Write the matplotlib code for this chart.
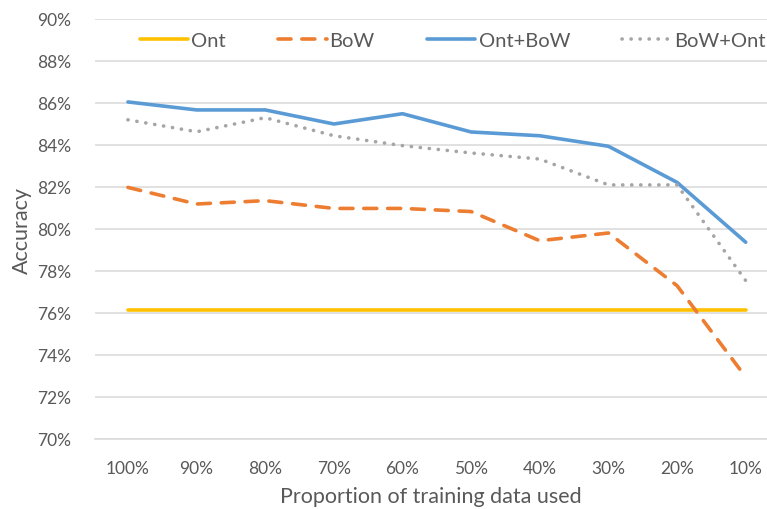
import matplotlib.pyplot as plt
from matplotlib.ticker import FuncFormatter

plt.rcParams['font.family'] = ['Lato', 'DejaVu Sans']

proportions = ["100%", "90%", "80%", "70%", "60%", "50%", "40%", "30%", "20%", "10%"]
ont = [76.14] * 10
bow = [81.98, 81.19, 81.35, 80.98, 80.98, 80.83, 79.44, 79.81, 77.3, 72.95]
ont_bow = [86.05, 85.67, 85.67, 85.0, 85.49, 84.62, 84.44, 83.94, 82.22, 79.37]
bow_ont = [85.2, 84.63, 85.3, 84.44, 83.97, 83.62, 83.33, 82.1, 82.1, 77.54]

text_color = "#595959"
grid_color = "#D9D9D9"

fig = plt.figure(figsize=(7.67, 5.10), dpi=100)
ax = fig.add_axes([95 / 767, 1 - 440 / 510, 1 - 95 / 767, 420 / 510])

x = range(len(proportions))
lw = 2.6
ax.plot(x, ont, color="#FFC000", lw=lw, solid_capstyle="round", label="Ont")
ax.plot(x, bow, color="#ED7D31", lw=lw, dashes=(3.6, 3.0), dash_capstyle="round", label="BoW")
ax.plot(x, ont_bow, color="#5B9BD5", lw=lw, solid_capstyle="round", label="Ont+BoW")
ax.plot(x, bow_ont, color="#A5A5A5", lw=lw, dashes=(0.05, 2.45), dash_capstyle="round", label="BoW+Ont")

ax.set_ylim(70, 90)
ax.set_yticks(range(70, 91, 2))
ax.yaxis.set_major_formatter(FuncFormatter(lambda v, p: f"{v:.0f}%"))
ax.set_xlim(-0.48, 9.31)
ax.set_xticks(list(x))
ax.set_xticklabels(proportions)

ax.grid(axis="y", color=grid_color, lw=1.1)
ax.set_axisbelow(True)
for s in ["top", "right", "left"]:
    ax.spines[s].set_visible(False)
ax.spines["bottom"].set_color(grid_color)
ax.spines["bottom"].set_linewidth(1.1)
ax.tick_params(length=0, labelsize=12.5, colors=text_color)
ax.tick_params(axis="y", pad=17)
ax.tick_params(axis="x", pad=15)

ax.set_xlabel("Proportion of training data used", fontsize=15.5, color=text_color, labelpad=7)
ax.set_ylabel("Accuracy", fontsize=15.5, color=text_color, labelpad=4)

leg = fig.legend(loc="center", bbox_to_anchor=(0.59, 1 - 41 / 510), ncol=4, frameon=False,
                 fontsize=14.5, handlelength=2.4, columnspacing=2.6, handletextpad=0.15)
for t in leg.get_texts():
    t.set_color(text_color)

fig.savefig("out.png", dpi=100)
